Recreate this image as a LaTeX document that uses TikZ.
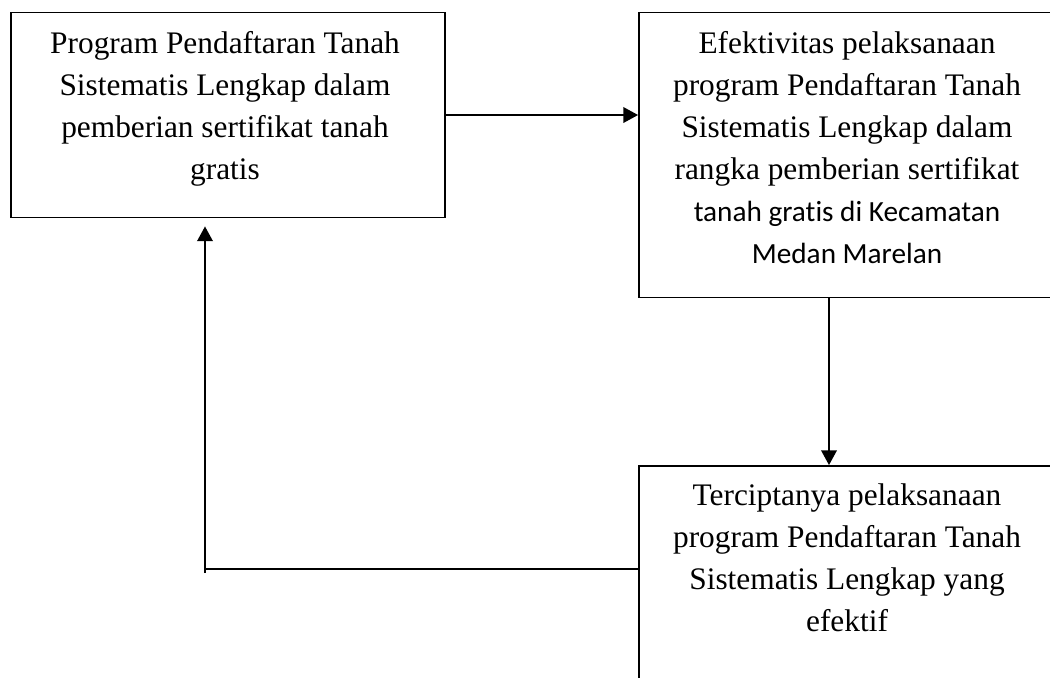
\documentclass[tikz,border=0pt]{standalone}
\usepackage{fontspec}
\setmainfont{Liberation Serif}
\newfontfamily\carlito[Ligatures=NoCommon]{Carlito}
\usetikzlibrary{arrows.meta}
\def\pxu{0.025cm}
\tikzset{
 box/.style={draw, line width=1.3pt, rectangle, inner sep=0pt},
 txt/.style={align=center, inner sep=0pt, anchor=north, font=\fontsize{22.3}{29.9}\selectfont},
 conn/.style={line width=1.3pt},
 arr/.style={conn, -{Triangle[width=0.39cm,length=0.37cm]}},
}
\begin{document}
\begin{tikzpicture}[x=0.025cm,y=-0.025cm]
\useasboundingbox (0,0) rectangle (1050,677);
\clip (0,0) rectangle (1050,677);
\node[box, minimum width=434*\pxu, minimum height=205*\pxu] (A) at (228,115) {};
\node[box, minimum width=417*\pxu, minimum height=285*\pxu] (B) at (847.5,155) {};
\node[box, minimum width=417*\pxu, minimum height=234*\pxu] (C) at (847.5,583) {};
\node[txt] (tA) at (225,23.5) {\strut Program Pendaftaran Tanah\\ Sistematis Lengkap dalam\\ pemberian sertifikat tanah\\ gratis};
\node[txt] (tB) at (847,23.5) {\strut Efektivitas pelaksanaan\\ program Pendaftaran Tanah\\ Sistematis Lengkap dalam\\ rangka pemberian sertifikat\\ {\carlito\fontsize{20.8}{29.9}\selectfont tanah gratis di Kecamatan}\\ {\carlito\fontsize{20.8}{29.9}\selectfont Medan Marelan}};
\node[txt] (tC) at (847,475.5) {\strut Terciptanya pelaksanaan\\ program Pendaftaran Tanah\\ Sistematis Lengkap yang\\ efektif};
\coordinate (bx) at (829,0);
\coordinate (corner) at (205,569);
\coordinate (cornerlow) at (205,573);
\draw[arr] (A.east) -- (B.west |- A.east);
\draw[arr] (B.south -| bx) -- (C.north -| bx);
\draw[conn] (C.west |- corner) -- (corner);
\draw[arr, shorten >=8*\pxu] (cornerlow) -- (A.south -| corner);
\end{tikzpicture}
\end{document}
